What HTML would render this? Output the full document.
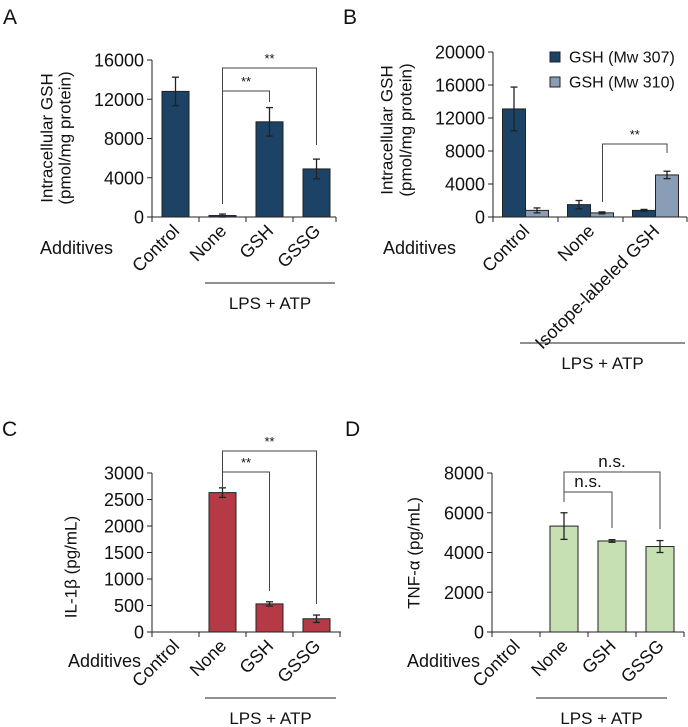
<!DOCTYPE html>
<html><head><meta charset="utf-8"><style>
html,body{margin:0;padding:0;background:#fff;}
svg{display:block;font-family:"Liberation Sans",Arial,sans-serif;}
</style></head><body>
<svg id="fig" width="688" height="727" viewBox="0 0 688 727"></svg>
<script>
// ---- data ----
const A_categories = ["Control","None","GSH","GSSG"];
const A_values = [12800,150,9700,4900];
const A_errors = [1450,150,1450,1000];
const A_ticks = [0,4000,8000,12000,16000];

const B_categories = ["Control","None","Isotope-labeled GSH"];
const B_mw307 = [13100,1500,800];
const B_mw307_err = [2650,500,120];
const B_mw310 = [800,500,5100];
const B_mw310_err = [300,120,450];
const B_ticks = [0,4000,8000,12000,16000,20000];
const B_series_names = ["GSH (Mw 307)","GSH (Mw 310)"];

const C_categories = ["Control","None","GSH","GSSG"];
const C_values = [0,2630,530,250];
const C_errors = [0,90,40,70];
const C_ticks = [0,500,1000,1500,2000,2500,3000];

const D_categories = ["Control","None","GSH","GSSG"];
const D_values = [0,5330,4580,4300];
const D_errors = [0,670,65,300];
const D_ticks = [0,2000,4000,6000,8000];

const NS = "http://www.w3.org/2000/svg";
const svg = document.getElementById("fig");
function mk(tag, attrs, parent, text){
  const e = document.createElementNS(NS, tag);
  for (const k in attrs) e.setAttribute(k, attrs[k]);
  if (text !== undefined) e.textContent = text;
  (parent || svg).appendChild(e);
  return e;
}
function line(x1,y1,x2,y2,g,w){return mk("line",{x1,y1,x2,y2,stroke:"#222","stroke-width":w||1},g);}

function panel(cfg){
  const g = mk("g",{});
  
  
  const ys = v => cfg.y0 - (v / cfg.max) * (cfg.y0 - cfg.yTop);
  const xc = i => cfg.x0 + cfg.cw * (i + 0.5);
  const L = mk("text",{x:cfg.letterX,y:cfg.letterY,"font-size":21,fill:"#111"},g,cfg.letter);
  
  
  const ya = line(cfg.x0, cfg.yTop, cfg.x0, cfg.y0, g);
  
  
  cfg.ticks.forEach(t=>{
    const y = ys(t);
    line(cfg.x0-5,y,cfg.x0,y,g);
    const tl = mk("text",{x:cfg.x0-8,y:y+6.5,"font-size":18,"text-anchor":"end",fill:"#111"},g,String(t));
    
    
  });
  const xa = line(cfg.x0, cfg.y0, cfg.xEnd, cfg.y0, g);
  
  
  for (let i=0;i<=cfg.cats.length;i++){
    const x = Math.min(cfg.x0 + cfg.cw*i, cfg.xEnd);
    line(x,cfg.y0,x,cfg.y0+5,g);
  }
  cfg.series.forEach((s,si)=>{
    const n = cfg.series.length;
    s.values.forEach((v,i)=>{
      if (cfg.skipZero && v === 0) return;
      const bx = n===1 ? xc(i) - cfg.bw/2 : xc(i) - cfg.bw + si*cfg.bw;
      const y = ys(v);
      const r = mk("rect",{x:bx,y:y,width:cfg.bw,height:cfg.y0-y,fill:s.color,stroke:"#222","stroke-width":1},g);
      
      
      const e = s.errors[i];
      const cx = bx + cfg.bw/2;
      const eg = mk("g",{},g);
      
      
      line(cx, ys(v+e), cx, ys(Math.max(v-e,0)), eg, 1.3);
      line(cx-3.5, ys(v+e), cx+3.5, ys(v+e), eg, 1.3);
      line(cx-3.5, ys(Math.max(v-e,0)), cx+3.5, ys(Math.max(v-e,0)), eg, 1.3);
    });
  });
  cfg.cats.forEach((c,i)=>{
    const x = xc(i) + 5, y = cfg.y0 + 15;
    const t = mk("text",{x:x,y:y,"font-size":18,"text-anchor":"end",fill:"#111",transform:`rotate(-45 ${x} ${y})`},g,c);
    
    
  });
  const ad = mk("text",{x:cfg.addX,y:cfg.addY,"font-size":18,fill:"#111"},g,"Additives");
  
  
  const lp = line(cfg.lps[0], cfg.lps[2], cfg.lps[1], cfg.lps[2], g);
  
  
  const lt = mk("text",{x:(cfg.lps[0]+cfg.lps[1])/2,y:cfg.lps[2]+26,"font-size":17,"text-anchor":"middle",fill:"#111"},g,"LPS + ATP");
  
  
  cfg.ytitle.forEach((s,k)=>{
    const x = cfg.ytx[k], y = cfg.yty;
    const t = mk("text",{x:x,y:y,"font-size":17,"text-anchor":"middle","dominant-baseline":"central",fill:"#111",transform:`rotate(-90 ${x} ${y})`},g,s);
    
    
  });
  (cfg.brackets||[]).forEach(b=>{
    const bg = mk("g",{},g);
    
    
    const x1 = cfg.bx ? cfg.bx(b.from,0) : xc(b.from), x2 = cfg.bx ? cfg.bx(b.to,1) : xc(b.to);
    mk("polyline",{points:`${x1},${b.y1} ${x1},${b.y} ${x2},${b.y} ${x2},${b.y2}`,fill:"none",stroke:"#444","stroke-width":1},bg);
    mk("text",{x:(x1+x2)/2,y:b.y-5,"font-size":b.label==="**"?13:17,"text-anchor":"middle",fill:"#111"},bg,b.label);
  });
  return {g, ys, xc};
}

panel({name:"panel-a",letter:"A",letterX:3,letterY:24,x0:152,y0:217,yTop:60,max:16000,cw:47,bw:27,xEnd:336,
  cats:A_categories,ticks:A_ticks,series:[{values:A_values,errors:A_errors,color:"#1c4266"}],
  addX:40,addY:254,lps:[205,335,283],ytitle:["Intracellular GSH","(pmol/mg protein)"],ytx:[47,65],yty:138,
  brackets:[{from:1,to:3,y:68,y1:204,y2:145,label:"**"},{from:1,to:2,y:91,y1:204,y2:102,label:"**"}]});

panel({name:"panel-b",letter:"B",letterX:343,letterY:24,x0:493,y0:217,yTop:52,max:20000,cw:65,bw:23,xEnd:687,
  cats:B_categories,ticks:B_ticks,
  series:[{key:"mw307-",values:B_mw307,errors:B_mw307_err,color:"#1c4266"},{key:"mw310-",values:B_mw310,errors:B_mw310_err,color:"#8a9db6"}],
  addX:383,addY:254,lps:[520,685,343],ytitle:["Intracellular GSH","(pmol/mg protein)"],ytx:[387,406],yty:130,
  bx:(i,s)=> 493 + 65*(i+0.5) + (s===0 ? 12 : 11.5),
  brackets:[{from:1,to:2,y:144,y1:202,y2:153,label:"**"}]});
[["#1c4266",0],["#8a9db6",1]].forEach(([c,k])=>{
  const lg = mk("g",{});
  
  
  mk("rect",{x:550,y:52+k*25,width:10,height:10,fill:c,stroke:"#222","stroke-width":1},lg);
  mk("text",{x:569,y:62.5+k*25,"font-size":16,fill:"#111"},lg,B_series_names[k]);
});

panel({name:"panel-c",letter:"C",letterX:2,letterY:436,x0:152,y0:632,yTop:473,max:3000,cw:47,bw:27,xEnd:341,skipZero:true,
  cats:C_categories,ticks:C_ticks,series:[{values:C_values,errors:C_errors,color:"#b63a46"}],
  addX:68,addY:667,lps:[205,336,698],ytitle:["IL-1β (pg/mL)"],ytx:[71],yty:567,
  brackets:[{from:1,to:3,y:451,y1:488,y2:604,label:"**"},{from:1,to:2,y:472,y1:488,y2:591,label:"**"}]});

panel({name:"panel-d",letter:"D",letterX:345,letterY:436,x0:492,y0:632,yTop:473,max:8000,cw:48,bw:28,xEnd:684,skipZero:true,
  cats:D_categories,ticks:D_ticks,series:[{values:D_values,errors:D_errors,color:"#c6e0b4"}],
  addX:407,addY:667,lps:[536,667,698],ytitle:["TNF-α (pg/mL)"],ytx:[414],yty:553,
  brackets:[{from:1,to:3,y:472,y1:502,y2:529,label:"n.s."},{from:1,to:2,y:492,y1:502,y2:528,label:"n.s."}]});
</script>
</body></html>
